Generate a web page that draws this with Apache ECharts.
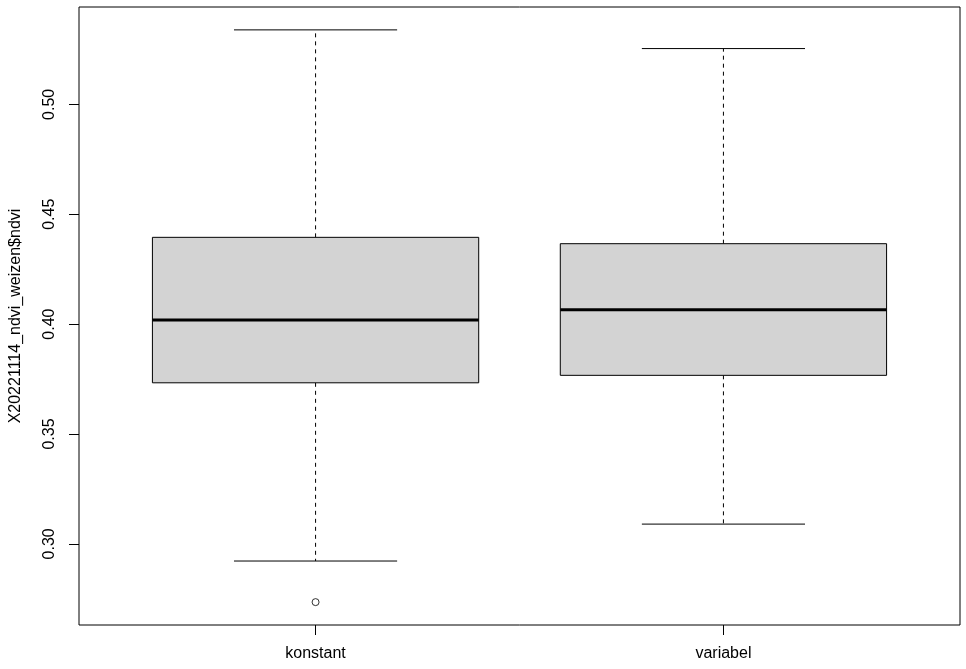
<!DOCTYPE html>
<html>
<head>
<meta charset="utf-8">
<script src="https://cdn.jsdelivr.net/npm/echarts@6/dist/echarts.min.js"></script>
<style>
html,body{margin:0;padding:0;background:#fff;}
#chart{width:966px;height:669px;}
</style>
</head>
<body>
<div id="chart"></div>
<script>
const categories = ['konstant', 'variabel'];
const lowerWhisker = [0.2922, 0.3090];
const q1 = [0.3733, 0.3767];
const median = [0.4019, 0.4065];
const q3 = [0.4395, 0.4366];
const upperWhisker = [0.5339, 0.5254];
const outliers = [[0, 0.2735]];
const yTicks = [0.30, 0.35, 0.40, 0.45, 0.50];
const yLabel = 'X20221114_ndvi_weizen$ndvi';

const allVals = lowerWhisker.concat(upperWhisker, outliers.map(o => o[1]));
const lo = Math.min(...allVals), hi = Math.max(...allVals);
const pad = (hi - lo) * 0.04;
const n = categories.length;
const xPad = n * 0.04;

const boxData = categories.map((c, i) => [i + 1, lowerWhisker[i], q1[i], median[i], q3[i], upperWhisker[i]]);
const outData = outliers.map(o => [o[0] + 1, o[1]]);

const font = 'Liberation Sans';
const chart = echarts.init(document.getElementById('chart'), null, {renderer: 'canvas'});
chart.setOption({
  animation: false,
  backgroundColor: '#fff',
  grid: {left: 79, right: 6, top: 7, bottom: 44, show: true, borderColor: '#000', borderWidth: 1, backgroundColor: 'transparent'},
  xAxis: {
    type: 'value', min: 0.5 - xPad, max: n + 0.5 + xPad,
    axisLine: {show: false}, splitLine: {show: false},
    axisTick: {show: true, length: 10, lineStyle: {color: '#000'}, customValues: categories.map((c, i) => i + 1)},
    axisLabel: {show: true, margin: 21, fontSize: 16, fontFamily: font, color: '#000',
      customValues: categories.map((c, i) => i + 1),
      formatter: v => categories[Math.round(v) - 1] || ''}
  },
  yAxis: {
    type: 'value', min: lo - pad, max: hi + pad,
    name: yLabel, nameLocation: 'middle', nameRotate: 90, nameGap: 55,
    nameTextStyle: {fontSize: 16, fontFamily: font, color: '#000'},
    axisLine: {show: false}, splitLine: {show: false},
    axisTick: {show: true, length: 10, lineStyle: {color: '#000'}, customValues: yTicks},
    axisLabel: {show: true, rotate: 90, margin: 21, fontSize: 16, fontFamily: font, color: '#000',
      customValues: yTicks, formatter: v => v.toFixed(2)}
  },
  series: [
    {
      type: 'custom',
      data: boxData,
      renderItem: function (params, api) {
        const x = api.value(0);
        const cx = api.coord([x, api.value(3)])[0];
        const yLW = api.coord([x, api.value(1)])[1];
        const yQ1 = api.coord([x, api.value(2)])[1];
        const yMed = api.coord([x, api.value(3)])[1];
        const yQ3 = api.coord([x, api.value(4)])[1];
        const yUW = api.coord([x, api.value(5)])[1];
        const left = api.coord([x - 0.4, api.value(3)])[0];
        const right = api.coord([x + 0.4, api.value(3)])[0];
        const capL = api.coord([x - 0.2, api.value(3)])[0];
        const capR = api.coord([x + 0.2, api.value(3)])[0];
        const lineStyle = {stroke: '#000', lineWidth: 1};
        const dashStyle = {stroke: '#000', lineWidth: 1, lineDash: [4, 4]};
        return {
          type: 'group',
          children: [
            {type: 'line', shape: {x1: cx, y1: yQ3, x2: cx, y2: yUW}, style: dashStyle},
            {type: 'line', shape: {x1: cx, y1: yQ1, x2: cx, y2: yLW}, style: dashStyle},
            {type: 'line', shape: {x1: capL, y1: yUW, x2: capR, y2: yUW}, style: lineStyle},
            {type: 'line', shape: {x1: capL, y1: yLW, x2: capR, y2: yLW}, style: lineStyle},
            {type: 'rect', shape: {x: left, y: yQ3, width: right - left, height: yQ1 - yQ3},
              style: {fill: '#d3d3d3', stroke: '#000', lineWidth: 1}},
            {type: 'line', shape: {x1: left, y1: yMed, x2: right, y2: yMed}, style: {stroke: '#000', lineWidth: 3}}
          ]
        };
      }
    },
    {
      type: 'scatter',
      data: outData,
      symbol: 'circle',
      symbolSize: 7,
      itemStyle: {color: 'transparent', borderColor: '#000', borderWidth: 1}
    }
  ]
});
</script>
</body>
</html>
